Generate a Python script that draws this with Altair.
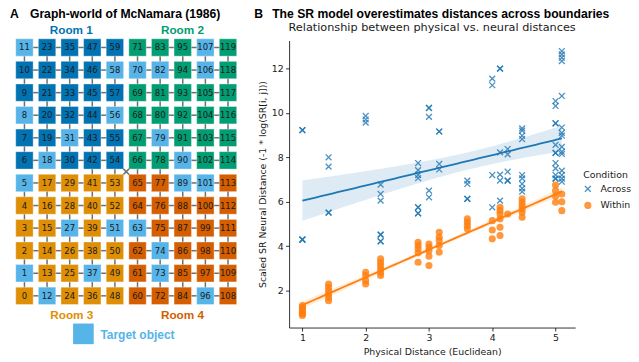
import altair as alt
import numpy as np
import pandas as pd

# ---------------- Panel A: graph world ----------------
n_cols = 10
n_rows = 12
target_objects = [1, 5, 8, 11, 12, 18, 27, 31, 37, 51, 56, 58, 63, 70, 73, 74,
                  79, 82, 89, 90, 96, 101, 106, 107]
room_labels = ["Room 1", "Room 2", "Room 3", "Room 4"]
room_colors = ["#0173b2", "#029e73", "#de8f05", "#d55e00"]
target_color = "#56b4e9"
door_edges = [(41, 42), (53, 54), (65, 66), (77, 78), (54, 65), (53, 66)]

OY = 41  # page y of the plot origin (shared by both panels)


def room_of(c, r):
    return (0 if c < 5 else 1) + (0 if r >= 6 else 2)


cells = []
for c in range(n_cols):
    for r in range(n_rows):
        idx = c * n_rows + r
        fill = target_color if idx in target_objects else room_colors[room_of(c, r)]
        cells.append(dict(id=str(idx), c=c, r=r, fill=fill))
cells_df = pd.DataFrame(cells)

edges = []
for c in range(n_cols):
    for r in range(n_rows):
        if c + 1 < n_cols and room_of(c, r) == room_of(c + 1, r):
            edges.append(dict(c=c, r=r, c2=c + 1, r2=r))
        if r + 1 < n_rows and room_of(c, r) == room_of(c, r + 1):
            edges.append(dict(c=c, r=r, c2=c, r2=r + 1))
for a, b in door_edges:
    edges.append(dict(c=a // n_rows, r=a % n_rows, c2=b // n_rows, r2=b % n_rows))
edges_df = pd.DataFrame(edges)

WA, HA = 242, 346 - OY
xa = alt.Scale(domain=[-0.727, 9.939], nice=False, zero=False)
ya = alt.Scale(domain=[(297.2 - 346) / 22.65, (297.2 - OY) / 22.65], nice=False, zero=False)

edge_layer = alt.Chart(edges_df).mark_rule(color="#6e6e6e", strokeWidth=1.5).encode(
    x=alt.X("c:Q", scale=xa, axis=None), y=alt.Y("r:Q", scale=ya, axis=None),
    x2="c2:Q", y2="r2:Q")

cell_layer = alt.Chart(cells_df).transform_calculate(
    x0="datum.c - 0.385", x1="datum.c + 0.385",
    y0="datum.r - 0.385", y1="datum.r + 0.385",
).mark_rect(stroke="white", strokeWidth=0.8, strokeOpacity=0.45).encode(
    x=alt.X("x0:Q", scale=xa, axis=None), x2="x1:Q",
    y=alt.Y("y0:Q", scale=ya, axis=None), y2="y1:Q",
    fill=alt.Fill("fill:N", scale=None))

num_layer = alt.Chart(cells_df).mark_text(
    font="DejaVu Sans", fontSize=8.5, color="#1a1a1a").encode(
    x=alt.X("c:Q", scale=xa, axis=None), y=alt.Y("r:Q", scale=ya, axis=None),
    text="id:N")


def label(text, x, y, color="#000000", size=12.2, bold=True, align="left",
          baseline="alphabetic", font="Liberation Sans"):
    return alt.Chart(pd.DataFrame({"t": [text]})).mark_text(
        font=font, fontSize=size, fontWeight="bold" if bold else "normal",
        color=color, align=align, baseline=baseline).encode(
        x=alt.value(x), y=alt.value(y), text="t:N")


room_pos = [(63.5, 35 - OY), (175, 35 - OY), (64, 320 - OY), (175, 320 - OY)]
room_layers = [label(room_labels[i], room_pos[i][0], room_pos[i][1], room_colors[i],
                     size=11.8, align="center") for i in range(4)]

legend_sq = alt.Chart(pd.DataFrame({"t": ["Target object"]})).mark_rect(
    color=target_color).encode(x=alt.value(65.3), x2=alt.value(86),
                               y=alt.value(325 - OY), y2=alt.value(345.7 - OY))
legend_txt = label("Target object", 92.7, 336.7 - OY, target_color, size=12,
                   baseline="middle")

HEAD_Y = -23
panel_a = alt.layer(
    edge_layer, cell_layer, num_layer,
    label("A", 2, HEAD_Y), label("Graph-world of McNamara (1986)", 22, HEAD_Y),
    *room_layers, legend_sq, legend_txt,
).properties(width=WA, height=HA)

# ---------------- Panel B: SR distances ----------------
distances = [1.0, 1.414, 2.0, 2.236, 2.828, 3.0, 3.162, 3.606, 4.0, 4.123,
             4.243, 4.472, 5.0, 5.099]
across_values = [
    [9.22, 9.22, 4.30, 4.30, 4.30],
    [8.00, 7.58, 5.51, 5.51],
    [9.86, 9.70, 9.56],
    [6.77, 6.35, 6.05, 4.52, 4.52, 4.22, 4.22],
    [7.74, 7.42, 7.20, 7.06, 5.75, 5.75, 5.48, 5.48],
    [10.22, 10.22, 9.82, 6.50, 6.20],
    [9.16, 9.16, 7.70, 7.45],
    [6.95, 6.80, 6.13, 6.13],
    [11.54, 11.24, 7.20, 5.75],
    [11.99, 11.99, 8.22, 7.22, 6.95, 6.05],
    [8.37, 8.13, 7.35, 6.95, 6.95],
    [9.30, 9.20, 8.97, 8.82, 7.20, 7.05, 6.80, 6.60, 6.45],
    [10.53, 10.31, 9.53, 9.53, 8.56, 8.20, 8.20, 7.74, 7.50, 7.20, 7.04, 7.04],
    [12.78, 12.63, 12.48, 12.33, 10.76, 9.34, 9.10, 8.97, 8.47, 8.25, 8.15,
     7.40, 7.20, 7.04, 6.90],
]
within_values = [
    [1.33, 1.25, 1.18, 1.10, 1.02, 0.95, 0.88],
    [2.30, 2.15, 2.00, 1.85, 1.70, 1.55],
    [2.83, 2.68, 2.45, 2.30],
    [3.43, 3.28, 3.13, 2.98, 2.83, 2.68],
    [4.18, 4.03, 3.88, 3.70, 3.28],
    [4.10, 3.95, 3.80, 3.55, 3.13],
    [4.63, 4.40, 4.25, 4.03, 3.73],
    [5.23, 5.08, 4.93, 4.78],
    [5.15, 4.73, 4.33],
    [5.75, 5.60, 5.45, 5.23, 4.85, 4.48],
    [5.45],
    [6.13, 5.98, 5.83, 5.68, 5.53, 5.30],
    [6.75, 6.50, 6.25, 5.98],
    [6.35, 6.00, 5.60],
]
conditions = ["Across", "Within"]
cond_colors = ["#1f77b4", "#ff7f0e"]

rows = []
for cond, vals in zip(conditions, [across_values, within_values]):
    for d, vs in zip(distances, vals):
        for v in vs:
            rows.append(dict(Condition=cond, dist=d, val=v))
pts_df = pd.DataFrame(rows)


def fit_band(x, y, n=60):
    x = np.asarray(x, float)
    y = np.asarray(y, float)
    b, a = np.polyfit(x, y, 1)
    xs = np.linspace(x.min(), x.max(), n)
    yhat = a + b * xs
    resid = y - (a + b * x)
    s = np.sqrt(np.sum(resid ** 2) / (len(x) - 2))
    sxx = np.sum((x - x.mean()) ** 2)
    se = s * np.sqrt(1.0 / len(x) + (xs - x.mean()) ** 2 / sxx)
    t = 1.99
    return pd.DataFrame(dict(dist=xs, fit=yhat, lo=yhat - t * se, hi=yhat + t * se))


WB, HB = 287, 329 - OY
xb = alt.Scale(domain=[0.79, 5.31], nice=False, zero=False)
yb = alt.Scale(domain=[0.341, 12 + (69 - OY) / 22.3], nice=False, zero=False)

axis_common = dict(grid=False, tickSize=3.5, tickWidth=0.8, domainWidth=0.8,
                   domainColor="#000000", tickColor="#000000",
                   labelFont="DejaVu Sans", titleFont="DejaVu Sans",
                   labelFontSize=9.4, titleFontSize=9.4, titleFontWeight="normal",
                   labelColor="#1a1a1a", titleColor="#1a1a1a")
x_axis = alt.Axis(values=[1, 2, 3, 4, 5], format="d",
                  title="Physical Distance (Euclidean)", labelPadding=2.5,
                  titlePadding=6, **axis_common)
y_axis = alt.Axis(values=[2, 4, 6, 8, 10, 12], format="d",
                  title="Scaled SR Neural Distance (-1 * log(SR[i, j]))",
                  labelPadding=2.5, titlePadding=4, **axis_common)

layers_b = []
fits = []
for cond, col in zip(conditions, cond_colors):
    sub = pts_df[pts_df.Condition == cond]
    f = fit_band(sub.dist, sub.val)
    fits.append((f, col))
    layers_b.append(alt.Chart(f).mark_area(color=col, opacity=0.15).encode(
        x=alt.X("dist:Q", scale=xb, axis=x_axis),
        y=alt.Y("lo:Q", scale=yb, axis=y_axis), y2="hi:Q"))

XPATH = "M-1,-1L1,1M-1,1L1,-1"
dom = alt.Scale(domain=conditions, range=[XPATH, "circle"])
leg = alt.Legend(title="Condition")
points = alt.Chart(pts_df).mark_point(size=34, strokeWidth=1.3, opacity=0.8).encode(
    x=alt.X("dist:Q", scale=xb, axis=x_axis),
    y=alt.Y("val:Q", scale=yb, axis=y_axis),
    shape=alt.Shape("Condition:N", scale=dom, legend=leg),
    stroke=alt.Stroke("Condition:N", scale=alt.Scale(domain=conditions, range=cond_colors), legend=leg),
    fill=alt.Fill("Condition:N", scale=alt.Scale(domain=conditions, range=["transparent", cond_colors[1]]), legend=leg),
)
layers_b.append(points)
for f, col in fits:
    layers_b.append(alt.Chart(f).mark_line(color=col, strokeWidth=1.8).encode(
        x=alt.X("dist:Q", scale=xb, axis=x_axis),
        y=alt.Y("fit:Q", scale=yb, axis=y_axis)))

layers_b.append(label("B", -35, HEAD_Y))
layers_b.append(label("The SR model overestimates distances across boundaries", -17, HEAD_Y))
layers_b.append(label("Relationship between physical vs. neural distances", WB / 2, 32 - OY,
                      "#1a1a1a", size=11.3, bold=False, align="center", font="DejaVu Sans"))

panel_b = alt.layer(*layers_b).properties(width=WB, height=HB)

chart = alt.hconcat(panel_a, panel_b, spacing=5).properties(
    padding={"top": -1, "left": 0, "right": 0, "bottom": 0}).configure_view(
    stroke=None).configure_legend(
    orient="none", legendX=577, legendY=171.5 - OY, padding=0,
    titleFont="DejaVu Sans", titleFontSize=9.4, titleFontWeight="normal",
    titleColor="#1a1a1a", labelFont="DejaVu Sans", labelFontSize=9.4,
    labelColor="#1a1a1a", symbolSize=34, symbolStrokeWidth=1.3,
    labelOffset=8, titlePadding=4.3, rowPadding=4.6, symbolOpacity=0.8)

chart.save("out.html", embed_options={"renderer": "svg", "actions": False})
